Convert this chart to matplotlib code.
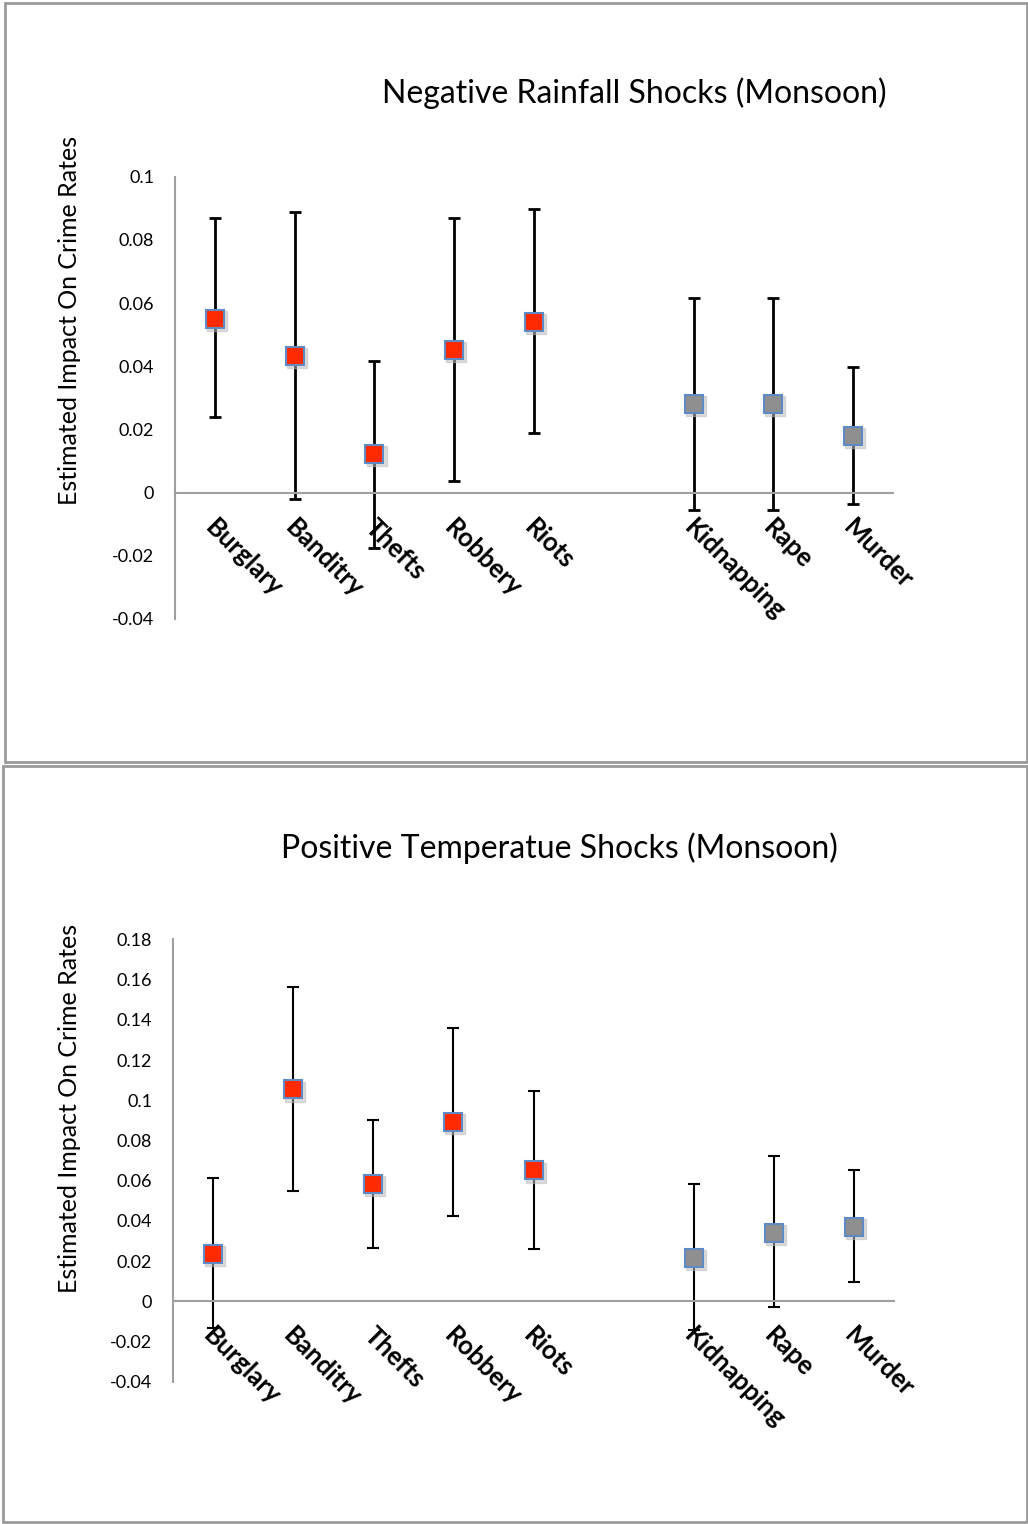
import matplotlib.pyplot as plt
import matplotlib.transforms as mtrans
from matplotlib.patches import Rectangle
import numpy as np

# categories (blank slot separates property crimes from violent crimes)
crimes = ["Burglary", "Banditry", "Thefts", "Robbery", "Riots", "", "Kidnapping", "Rape", "Murder"]
is_violent = [False, False, False, False, False, False, True, True, True]

# negative rainfall shocks: point estimate, upper and lower bound
rain_est = [0.055, 0.0434, 0.0122, 0.0452, 0.0541, np.nan, 0.0281, 0.0281, 0.018]
rain_hi = [0.0868, 0.0887, 0.0416, 0.0868, 0.0898, np.nan, 0.0617, 0.0617, 0.0397]
rain_lo = [0.0239, -0.002, -0.0176, 0.0038, 0.0188, np.nan, -0.0055, -0.0055, -0.0036]

# positive temperature shocks
temp_est = [0.0237, 0.1054, 0.0582, 0.0892, 0.0651, np.nan, 0.0215, 0.034, 0.037]
temp_hi = [0.0613, 0.1563, 0.09, 0.1361, 0.1044, np.nan, 0.0585, 0.0721, 0.0651]
temp_lo = [-0.0131, 0.0547, 0.0267, 0.0423, 0.0259, np.nan, -0.0144, -0.003, 0.0096]

rain_ticks = [-0.04, -0.02, 0, 0.02, 0.04, 0.06, 0.08, 0.1]
temp_ticks = [-0.04, -0.02, 0, 0.02, 0.04, 0.06, 0.08, 0.1, 0.12, 0.14, 0.16, 0.18]

FONT = ["Lato", "DejaVu Sans"]
plt.rcParams['font.family'] = FONT

fig = plt.figure(figsize=(10.28, 15.24), dpi=100)
W, H = 1028.0, 1524.0

# the two chart frames
fig.patches.append(Rectangle((5 / W, 1 - 762 / H), 1022 / W, 759 / H, transform=fig.transFigure,
                             fill=False, edgecolor="#9a9a9a", linewidth=2))
fig.patches.append(Rectangle((3 / W, 1 - 1522 / H), 1024 / W, 756 / H, transform=fig.transFigure,
                             fill=False, edgecolor="#9a9a9a", linewidth=2))


def draw_panel(rect, est, hi, lo, ticks, title, title_xy, ylab_xy, lw):
    ax = fig.add_axes(rect)
    x = np.arange(len(crimes))
    est = np.array(est)
    hi = np.array(hi)
    lo = np.array(lo)
    err = [est - lo, hi - est]
    ax.errorbar(x, est, yerr=err, fmt="none", ecolor="black", elinewidth=lw,
                capsize=4, capthick=lw, zorder=2)
    for i in x:
        if np.isnan(est[i]):
            continue
        face = "#8f8f8f" if is_violent[i] else "#ff2a00"
        # soft shadow
        ax.plot(i, est[i], marker="s", markersize=14, color="#bbbbbb", alpha=0.5,
                transform=ax.transData + mtrans.ScaledTranslation(1.5 / 72, -1.5 / 72, fig.dpi_scale_trans),
                zorder=2.5)
        ax.plot(i, est[i], marker="s", markersize=13.5, markerfacecolor=face,
                markeredgecolor="#5f8ac4", markeredgewidth=1.5, zorder=3)

    ax.set_xlim(-0.5, len(crimes) - 0.5)
    ax.set_ylim(ticks[0], ticks[-1])
    ax.set_yticks(ticks)
    ax.set_yticklabels([f"{t:g}" for t in ticks], fontsize=13)
    ax.tick_params(axis="y", length=0, pad=15)
    ax.tick_params(axis="x", length=0, pad=0)

    for s in ["top", "right"]:
        ax.spines[s].set_visible(False)
    ax.spines["left"].set_color("#a0a0a0")
    ax.spines["left"].set_linewidth(1.5)
    ax.spines["bottom"].set_color("#a0a0a0")
    ax.spines["bottom"].set_linewidth(1.5)
    ax.spines["bottom"].set_position(("data", 0))

    ax.set_xticks(x)
    ax.set_xticklabels(crimes, rotation=-45, rotation_mode="anchor", ha="left", va="top",
                       fontsize=18.5, fontweight="bold")
    shift = mtrans.ScaledTranslation(3 / 100, -22 / 100, fig.dpi_scale_trans)
    for lab in ax.get_xticklabels():
        lab.set_transform(lab.get_transform() + shift)

    fig.text(title_xy[0] / W, 1 - title_xy[1] / H, title, fontsize=23, ha="center", va="center")
    fig.text(ylab_xy[0] / W, 1 - ylab_xy[1] / H, "Estimated Impact On Crime Rates",
             fontsize=18, rotation=90, ha="center", va="center")
    return ax


draw_panel([175 / W, 1 - 619 / H, 718 / W, 442.3 / H], rain_est, rain_hi, rain_lo, rain_ticks,
           "Negative Rainfall Shocks (Monsoon)", (634, 93), (70, 320), 2.0)
draw_panel([173 / W, 1 - 1381.7 / H, 721 / W, 442.2 / H], temp_est, temp_hi, temp_lo, temp_ticks,
           "Positive Temperatue Shocks (Monsoon)", (559, 848), (70, 1108), 1.5)

fig.savefig("out.png", dpi=100)
